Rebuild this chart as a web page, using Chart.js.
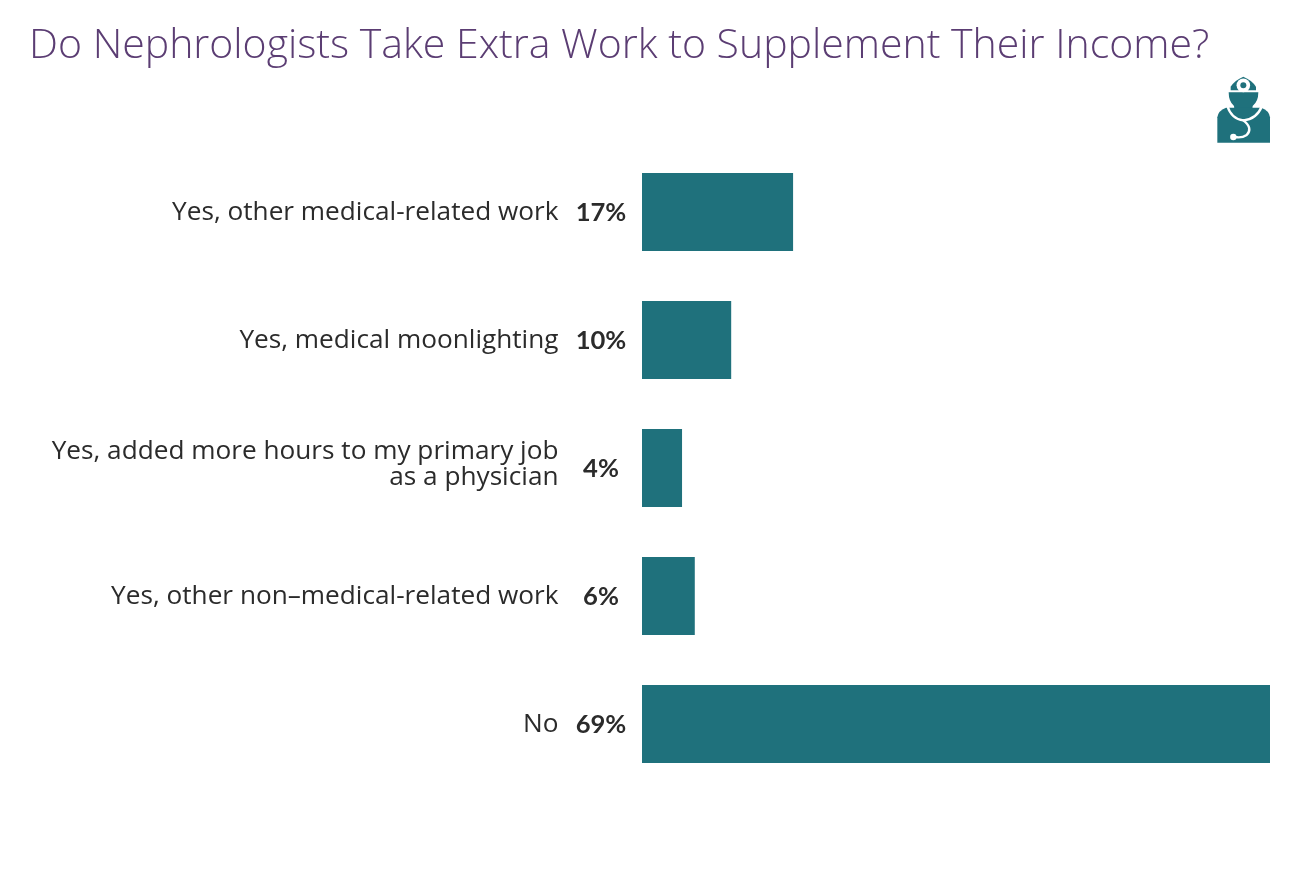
<!DOCTYPE html>
<html><head><meta charset="utf-8">
<style>html,body{margin:0;padding:0;background:#fff;width:1290px;height:878px;overflow:hidden}
#w{position:absolute;left:0;top:0;width:1290px;height:878px}</style>
<script src="https://cdn.jsdelivr.net/npm/chart.js@4"></script></head>
<body><div id="w"><canvas id="c" width="1290" height="878"></canvas></div>
<script>
const titleText = "Do Nephrologists Take Extra Work to Supplement Their Income?";
const categories = [
  ["Yes, other medical-related work"],
  ["Yes, medical moonlighting"],
  ["Yes, added more hours to my primary job","as a physician"],
  ["Yes, other non\u2013medical-related work"],
  ["No"]
];
const values = [16.6,9.8,4.4,5.8,69];
const valueLabels = ["17%","10%","4%","6%","69%"];
const barColor = "#1f717c";

const labelsPlugin = {
  id:"labelsPlugin",
  afterDraw(chart){
    const {ctx,scales:{y}}=chart;
    ctx.save();
    ctx.fillStyle="#2b2b2b";
    ctx.textBaseline="middle";
    ctx.textAlign="right";
    ctx.font='26.2px "Open Sans"';
    ctx.fontKerning="normal";
    categories.forEach((lines,i)=>{
      const cy=y.getPixelForValue(i);
      const off=lines.length>1?-3:1;
      lines.forEach((t,j)=>{
        ctx.fillText(t,558.5,cy+off+(j-(lines.length-1)/2)*26);
      });
    });
    ctx.textAlign="center";
    ctx.font='bold 25.6px "Lato"';
    valueLabels.forEach((v,i)=>{
      ctx.fillText(v,601,y.getPixelForValue(i)+1);
    });
    ctx.restore();
    // doctor icon, traced in the 3x crop coordinates
    const X=v=>1190+v/3, Y=v=>60+v/3;
    ctx.save();
    ctx.fillStyle=barColor;
    // cap
    ctx.beginPath();
    ctx.moveTo(X(122),Y(80));ctx.quadraticCurveTo(X(135),Y(60),X(160),Y(50));
    ctx.quadraticCurveTo(X(185),Y(60),X(198),Y(80));ctx.lineTo(X(198),Y(91));ctx.lineTo(X(122),Y(91));
    ctx.closePath();ctx.fill();
    // face / mask
    ctx.beginPath();
    ctx.moveTo(X(116),Y(97));ctx.lineTo(X(205),Y(97));
    ctx.quadraticCurveTo(X(205),Y(125),X(188),Y(138));
    ctx.lineTo(X(185),Y(165));ctx.lineTo(X(135),Y(165));ctx.lineTo(X(132),Y(138));
    ctx.quadraticCurveTo(X(116),Y(125),X(116),Y(97));
    ctx.closePath();ctx.fill();
    // body
    ctx.beginPath();
    ctx.moveTo(X(82),Y(248));ctx.lineTo(X(82),Y(172));
    ctx.quadraticCurveTo(X(84),Y(152),X(108),Y(143));
    ctx.lineTo(X(214),Y(143));
    ctx.quadraticCurveTo(X(238),Y(152),X(240),Y(172));
    ctx.lineTo(X(240),Y(248));ctx.closePath();ctx.fill();
    // reflector
    ctx.fillStyle="#fff";
    ctx.beginPath();ctx.arc(X(160),Y(76),6.8,0,Math.PI*2);ctx.fill();
    ctx.fillStyle=barColor;
    ctx.beginPath();ctx.arc(X(160),Y(76),3,0,Math.PI*2);ctx.fill();
    // stethoscope
    ctx.strokeStyle="#fff";ctx.lineWidth=2.4;ctx.lineCap="round";
    ctx.beginPath();
    ctx.moveTo(X(112),Y(138));ctx.quadraticCurveTo(X(125),Y(178),X(160),Y(181));
    ctx.quadraticCurveTo(X(200),Y(178),X(216),Y(138));
    ctx.stroke();
    ctx.beginPath();
    ctx.moveTo(X(160),Y(181));ctx.quadraticCurveTo(X(190),Y(205),X(170),Y(225));
    ctx.quadraticCurveTo(X(155),Y(235),X(135),Y(231));
    ctx.stroke();
    ctx.fillStyle="#fff";
    ctx.beginPath();ctx.arc(X(130),Y(231),3.2,0,Math.PI*2);ctx.fill();
    ctx.restore();
  }
};

new Chart(document.getElementById("c"),{
  type:"bar",
  data:{labels:categories,datasets:[{data:values,backgroundColor:barColor,borderWidth:0,barPercentage:0.61,categoryPercentage:1}]},
  options:{
    indexAxis:"y",responsive:false,animation:false,
    layout:{padding:{left:642,right:20,top:148,bottom:878-788}},
    plugins:{legend:{display:false},tooltip:{enabled:false},title:{display:false}},
    scales:{
      x:{display:false,min:0,max:69},
      y:{display:false}
    }
  },
  plugins:[labelsPlugin,{id:"t",afterDraw(c){const x=c.ctx;x.save();x.fillStyle="#5b3d73";x.font='300 41px "Open Sans"';x.textBaseline="alphabetic";x.textAlign="left";x.fillText(titleText,29,58);x.restore();}}]
});
</script></body></html>
